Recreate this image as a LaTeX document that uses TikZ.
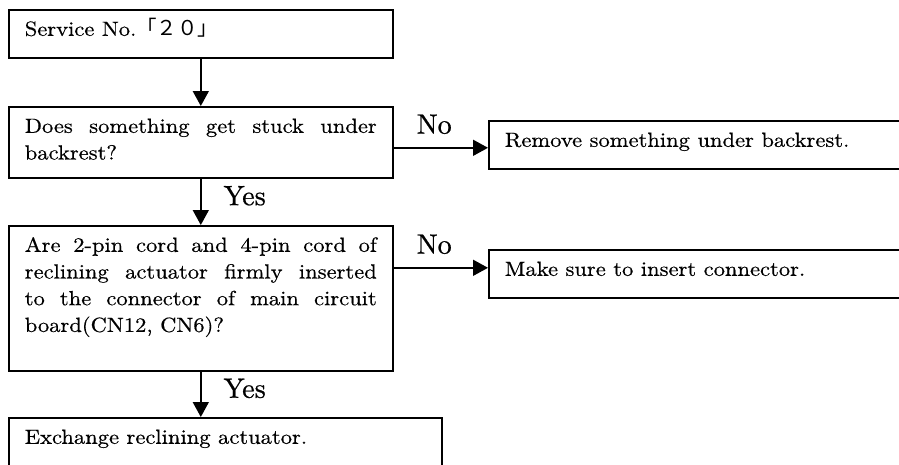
\documentclass[tikz,border=0pt]{standalone}
\usepackage{fontspec}
\newfontfamily\bodyfont{lmroman10-regular}[Extension=.otf, FakeStretch=1.1, FakeBold=0.5]
\newfontfamily\lblfont{lmroman10-regular}[Extension=.otf, FakeBold=0.7]
\newfontfamily\cjk{Noto Sans CJK JP}
\usetikzlibrary{positioning,arrows.meta}

\begin{document}
\begin{tikzpicture}[x=1pt, y=-1pt,
    box/.style={draw, line width=1.6pt, anchor=north west, align=justify,
        text width=352pt, inner xsep=16pt, inner ysep=8pt, text height=18pt,
        font=\bodyfont\fontsize{20.5}{26.7}\selectfont},
    lbl/.style={inner sep=2pt, font=\lblfont\fontsize{28}{30}\selectfont},
    arr/.style={line width=1.6pt, -{Triangle[width=16pt,length=15pt]}}]
    % Page frame
    \useasboundingbox (0,0) rectangle (899,464);
    \clip (0,0) rectangle (899,464);

    % Boxes
    \node[box, text depth=14pt] (start) at (8,9) {Service No.{\cjk 「２０」}};
    \node[box, text depth=37pt] (stuck) at (8,106) {Does something get stuck under backrest?};
    \node[box, text width=418pt, text depth=14pt] (remove) at (488,120) {Remove something under backrest.};
    \node[box, text depth=111pt] (cord) at (8,225) {Are 2-pin cord and 4-pin cord of\linebreak
        reclining actuator firmly inserted\linebreak
        to the connector of main circuit\linebreak
        board(CN12, CN6)?};
    \node[box, text width=418pt, text depth=14pt] (insert) at (488,249) {Make sure to insert connector.};
    \node[box, text width=401pt, text depth=40pt] (exchange) at (8,417) {Exchange reclining actuator.};

    % Arrow ends on the right boxes
    \coordinate (no1) at ([yshift=-3pt]remove.west);
    \coordinate (no2) at ([yshift=6pt]insert.west);

    % Arrows
    \draw[arr] (start.south) -- (stuck.north);
    \draw[arr] (stuck.east |- no1) -- (no1) node[lbl, pos=0.43, above=11pt] {No};
    \draw[arr] (stuck.south) -- (cord.north) node[lbl, pos=0.37, right=20pt] {Yes};
    \draw[arr] (cord.east |- no2) -- (no2) node[lbl, pos=0.43, above=11pt] {No};
    \draw[arr] (cord.south) -- (cord.south |- exchange.north) node[lbl, pos=0.37, right=20pt] {Yes};
\end{tikzpicture}
\end{document}
